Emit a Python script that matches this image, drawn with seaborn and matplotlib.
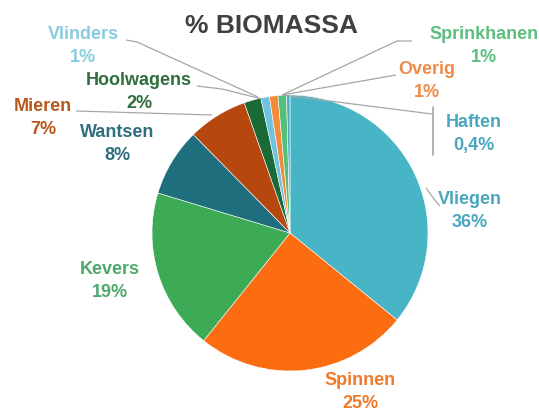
import matplotlib
matplotlib.use("Agg")
import matplotlib.pyplot as plt
import seaborn as sns

sns.set_theme(style="white")
plt.rcParams['font.family'] = ['Liberation Sans', 'DejaVu Sans']

# ---- data ----
categories = ["Vliegen", "Spinnen", "Kevers", "Wantsen", "Mieren",
              "Hoolwagens", "Vlinders", "Overig", "Sprinkhanen", "Haften"]
values = [36, 25, 19, 8, 7, 2, 1, 1, 1, 0.4]
pct_labels = ["36%", "25%", "19%", "8%", "7%", "2%", "1%", "1%", "1%", "0,4%"]
title = "% BIOMASSA"

# ---- styles ----
slice_colors = ["#47B5C5", "#FB6D10", "#3DAA55", "#1E6E7E", "#B5470F",
                "#1A6A35", "#6EC3E0", "#F58A3A", "#52C07A", "#4BB0C8"]
text_colors = ["#4AA6BE", "#F07A2A", "#4DA86A", "#2E6E7E", "#B8561C",
               "#2F6E3C", "#88CCE0", "#F08A48", "#5DBE7E", "#4AA6BE"]

W, H = 539, 412
CX, CY, R = 290, 233, 138

def px(x, y):
    return ((x - CX) / R, (CY - y) / R)

# label centres (pixel layout)
label_pos = {
    "Vliegen": (470, 211), "Spinnen": (360, 392), "Kevers": (110, 281),
    "Wantsen": (117, 144), "Mieren": (43, 118), "Hoolwagens": (139, 92),
    "Vlinders": (83, 46), "Overig": (427, 81), "Sprinkhanen": (484, 46),
    "Haften": (474, 134),
}
# leader line paths (pixel layout)
leaders = {
    "Vlinders": [(126, 40), (137, 42), (258, 97)],
    "Hoolwagens": [(197, 86), (222, 89), (262, 99)],
    "Mieren": [(76, 111), (212, 115)],
    "Sprinkhanen": [(412, 41), (397, 41), (282, 95)],
    "Overig": [(396, 75), (282, 95)],
    "Haften": [(282, 95), (432, 114)],
    "Vliegen": [(440, 206), (434, 199), (426, 188)],
}

fig = plt.figure(figsize=(W / 100, H / 100), dpi=100)
ax = fig.add_axes([0, 0, 1, 1])

ax.pie(values, colors=slice_colors, startangle=90, counterclock=False,
       radius=1.0, center=(0, 0),
       wedgeprops=dict(edgecolor="white", linewidth=0.4))

ax.set_aspect("auto")
x0, y0 = px(0, H)
x1, y1 = px(W, 0)
ax.set_xlim(x0, x1)
ax.set_ylim(y0, y1)
ax.axis("off")

for name, pts in leaders.items():
    xs, ys = zip(*[px(*p) for p in pts])
    ax.plot(xs, ys, color="#A6A6A6", lw=0.9, solid_capstyle="butt")
# Haften bracket
bx = [px(433, 107)[0], px(433, 155)[0]]
by = [px(433, 107)[1], px(433, 155)[1]]
ax.plot(bx, by, color="#A6A6A6", lw=1.2)

for cat, pct, tc in zip(categories, pct_labels, text_colors):
    x, y = px(*label_pos[cat])
    ax.text(x, y, f"{cat}\n{pct}", color=tc, fontsize=13, fontweight="bold",
            ha="center", va="center", linespacing=1.45)

tx, ty = px(271, 26)
ax.text(tx, ty, title, color="#404040", fontsize=19, fontweight="bold",
        ha="center", va="center")

fig.savefig("out.png", dpi=100)
